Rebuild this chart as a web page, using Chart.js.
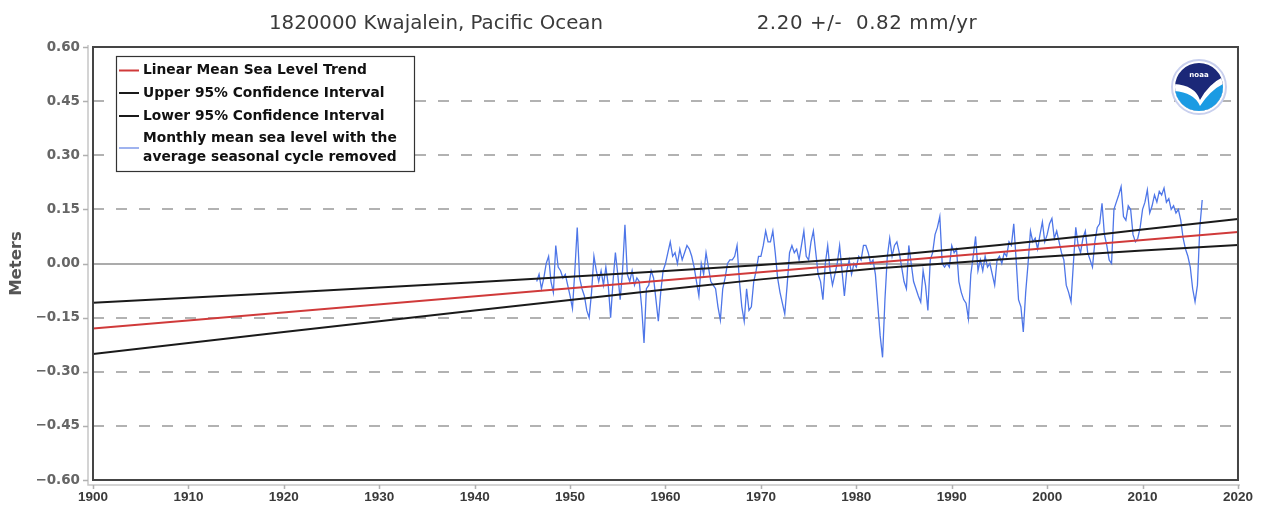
<!DOCTYPE html>
<html><head><meta charset="utf-8">
<script src="https://cdn.jsdelivr.net/npm/chart.js@4.4.1/dist/chart.umd.min.js"></script>
<style>html,body{margin:0;padding:0;background:#fff;overflow:hidden}#wrap{position:relative;width:1262px;height:507px}</style>
</head><body><div id="wrap"><canvas id="c"></canvas></div>
<script>
// ---------- data ----------
const chartTitle = '1820000 Kwajalein, Pacific Ocean';
const trendText = '2.20 +/-  0.82 mm/yr';
const yAxisTitle = 'Meters';
const legendLabels = [
  ['Linear Mean Sea Level Trend'],
  ['Upper 95% Confidence Interval'],
  ['Lower 95% Confidence Interval'],
  ['Monthly mean sea level with the', 'average seasonal cycle removed']
];
const xTickValues = [1900,1910,1920,1930,1940,1950,1960,1970,1980,1990,2000,2010,2020];
const xTickLabels = ['1900','1910','1920','1930','1940','1950','1960','1970','1980','1990','2000','2010','2020'];
const yTickValues = [-0.60,-0.45,-0.30,-0.15,0,0.15,0.30,0.45,0.60];
const yTickLabels = ['\u22120.60','\u22120.45','\u22120.30','\u22120.15','0.00','0.15','0.30','0.45','0.60'];

// linear trend (m)
const trendYears = [1900, 2020];
const trendValues = [-0.180, 0.087];
// 95% confidence interval lines (m)
const ciYears = [1900,1920,1940,1950,1960,1970,1982,1995,2005,2010,2020];
const ciUpper = [-0.109,-0.081,-0.052,-0.037,-0.021,-0.004,0.019,0.051,0.079,0.094,0.123];
const ciLower = [-0.251,-0.190,-0.130,-0.101,-0.072,-0.044,-0.014,0.011,0.028,0.036,0.051];

// mean sea level, seasonal cycle removed (m), quarterly readings from 1946.50
const mslStartYear = 1946.5;
const mslStep = 0.25;
const mslValues = [
  -0.05,-0.03,
  -0.07,-0.04,0.00,0.02,
  -0.05,-0.08,0.05,-0.01,
  -0.02,-0.04,-0.03,-0.06,
  -0.09,-0.125,-0.02,0.10,
  -0.04,-0.07,-0.09,-0.13,
  -0.15,-0.08,0.02,-0.02,
  -0.05,-0.02,-0.06,-0.01,
  -0.06,-0.15,-0.05,0.03,
  -0.03,-0.10,-0.02,0.107,
  -0.03,-0.05,-0.02,-0.06,
  -0.04,-0.05,-0.12,-0.22,
  -0.07,-0.06,-0.02,-0.04,
  -0.10,-0.16,-0.08,-0.02,
  0.00,0.03,0.06,0.02,
  0.03,0.00,0.04,0.01,
  0.03,0.05,0.04,0.02,
  -0.01,-0.05,-0.09,0.00,
  -0.03,0.03,-0.01,-0.05,
  -0.06,-0.07,-0.12,-0.157,
  -0.07,-0.04,0.00,0.01,
  0.01,0.02,0.05,-0.05,
  -0.12,-0.16,-0.07,-0.13,
  -0.12,-0.05,-0.02,0.02,
  0.02,0.05,0.09,0.06,
  0.06,0.09,0.03,-0.04,
  -0.08,-0.11,-0.14,-0.06,
  0.03,0.05,0.03,0.04,
  0.01,0.05,0.09,0.02,
  0.01,0.06,0.09,0.03,
  -0.03,-0.05,-0.10,0.00,
  0.05,-0.02,-0.06,-0.03,
  0.00,0.05,-0.02,-0.09,
  -0.02,0.01,-0.03,0.00,
  -0.01,0.02,0.01,0.05,
  0.05,0.03,0.00,0.01,
  -0.03,-0.115,-0.20,-0.26,
  -0.10,0.02,0.07,0.02,
  0.05,0.06,0.03,-0.01,
  -0.05,-0.07,0.05,0.00,
  -0.05,-0.07,-0.09,-0.107,
  -0.02,-0.06,-0.13,0.01,
  0.03,0.08,0.10,0.13,
  0.00,-0.01,0.00,-0.01,
  0.05,0.03,0.04,-0.05,
  -0.08,-0.10,-0.11,-0.153,
  -0.03,0.02,0.075,-0.02,
  0.01,-0.02,0.02,-0.01,
  0.00,-0.03,-0.06,0.01,
  0.02,0.00,0.03,0.02,
  0.06,0.05,0.11,0.01,
  -0.10,-0.12,-0.19,-0.08,
  0.00,0.09,0.06,0.07,
  0.04,0.08,0.115,0.06,
  0.08,0.11,0.125,0.07,
  0.09,0.06,0.03,0.01,
  -0.06,-0.08,-0.106,0.00,
  0.10,0.05,0.03,0.07,
  0.09,0.03,0.01,-0.01,
  0.06,0.10,0.11,0.167,
  0.08,0.05,0.01,0.00,
  0.15,0.17,0.19,0.213,
  0.13,0.12,0.16,0.15,
  0.08,0.06,0.07,0.10,
  0.15,0.17,0.204,0.14,
  0.16,0.19,0.17,0.20,
  0.19,0.209,0.17,0.18,
  0.15,0.16,0.14,0.15,
  0.12,0.07,0.04,0.02,
  -0.01,-0.07,-0.106,-0.06,
  0.10,0.176
];

// ---------- styles ----------
const COL_TREND = '#d03a3a';
const COL_CI = '#1a1a1a';
const COL_MSL = 'rgb(78,118,232)';
const legendColors = [COL_TREND, COL_CI, COL_CI, '#9fb3ef'];

const toXY = (xs, ys) => ys.map((v, i) => ({x: xs[i], y: v}));
const mslPoints = mslValues.map((v, i) => ({x: mslStartYear + i * mslStep, y: v}));

const decor = {
  id: 'decor',
  beforeDatasetsDraw(chart) {
    const {ctx, chartArea: a, scales: {y}} = chart;
    const y0 = Math.round(y.getPixelForValue(0));
    ctx.save();
    ctx.strokeStyle = '#ababab'; ctx.lineWidth = 2;
    ctx.beginPath(); ctx.moveTo(a.left, y0); ctx.lineTo(a.right, y0); ctx.stroke();
    ctx.restore();
  },
  afterDatasetsDraw(chart) {
    const {ctx, chartArea: a, scales: {x, y}} = chart;
    ctx.save();
    ctx.strokeStyle = '#c6c6c6'; ctx.lineWidth = 1.5;
    ctx.beginPath();
    ctx.moveTo(a.left - 5, a.top - 2); ctx.lineTo(a.left - 5, a.bottom + 5);
    ctx.lineTo(a.right + 2, a.bottom + 5);
    ctx.stroke();
    ctx.strokeStyle = '#b0b0b0'; ctx.lineWidth = 1.5;
    ctx.beginPath();
    yTickValues.forEach(v => { const p = Math.round(y.getPixelForValue(v)) + 0.5; ctx.moveTo(a.left - 10, p); ctx.lineTo(a.left - 5, p); });
    xTickValues.forEach(v => { const p = Math.round(x.getPixelForValue(v)) + 0.5; ctx.moveTo(p, a.bottom + 5); ctx.lineTo(p, a.bottom + 9); });
    ctx.stroke();
    ctx.strokeStyle = '#454545'; ctx.lineWidth = 2;
    ctx.strokeRect(a.left, a.top, a.right - a.left, a.bottom - a.top);
    ctx.restore();
  },
  afterDraw(chart) {
    const {ctx, chartArea: a} = chart;
    ctx.save();
    // title
    ctx.fillStyle = '#3a3a3a';
    ctx.font = '19.8px "DejaVu Sans", sans-serif';
    ctx.textAlign = 'center'; ctx.textBaseline = 'middle';
    ctx.fillText(chartTitle, 436, 24);
    ctx.letterSpacing = '0.6px';
    ctx.fillText(trendText, 867, 24);
    ctx.letterSpacing = '0px';
    // y axis title
    ctx.save();
    ctx.translate(17, (a.top + a.bottom) / 2);
    ctx.rotate(-Math.PI / 2);
    ctx.fillStyle = '#555';
    ctx.font = 'bold 16.5px "DejaVu Sans", sans-serif';
    ctx.fillText(yAxisTitle, 0, 0);
    ctx.restore();
    // legend box
    const bx = a.left + 23, by = a.top + 9, bw = 298, bh = 115;
    ctx.fillStyle = '#fff'; ctx.fillRect(bx, by, bw, bh);
    ctx.strokeStyle = '#333'; ctx.lineWidth = 1.2;
    ctx.strokeRect(bx + 0.5, by + 0.5, bw, bh);
    ctx.font = 'bold 13.8px "DejaVu Sans", sans-serif';
    ctx.textBaseline = 'middle';
    const rowY = [by + 14.5, by + 37, by + 60];
    legendLabels.forEach((lines, i) => {
      const cy = lines.length === 1 ? rowY[i] : by + 92;
      ctx.strokeStyle = legendColors[i]; ctx.lineWidth = 2;
      ctx.beginPath(); ctx.moveTo(bx + 3, cy); ctx.lineTo(bx + 23, cy); ctx.stroke();
      ctx.fillStyle = '#111';
      if (lines.length === 1) {
        ctx.textAlign = 'left';
        ctx.fillText(lines[0], bx + 27, cy);
      } else {
        ctx.textAlign = 'center';
        const w0 = ctx.measureText(lines[0]).width;
        const cx = bx + 27 + w0 / 2;
        ctx.fillText(lines[0], cx, cy - 9.5);
        ctx.fillText(lines[1], cx, cy + 9.5);
      }
    });
    // NOAA emblem
    const lx = a.right - 39, ly = a.top + 40;
    ctx.beginPath(); ctx.arc(lx, ly, 27, 0, Math.PI * 2);
    ctx.fillStyle = '#fff'; ctx.fill();
    ctx.strokeStyle = '#c9d0ee'; ctx.lineWidth = 2; ctx.stroke();
    ctx.save();
    ctx.beginPath(); ctx.arc(lx, ly, 24, 0, Math.PI * 2); ctx.clip();
    ctx.fillStyle = '#1b2878'; ctx.fillRect(lx - 26, ly - 26, 52, 52);
    ctx.fillStyle = '#ffffff';
    ctx.beginPath();
    ctx.moveTo(lx - 26, ly - 3);
    ctx.quadraticCurveTo(lx - 4, ly - 2, lx + 1, ly + 13);
    ctx.quadraticCurveTo(lx + 10, ly - 4, lx + 26, ly - 11);
    ctx.lineTo(lx + 26, ly + 30); ctx.lineTo(lx - 26, ly + 30); ctx.closePath(); ctx.fill();
    ctx.fillStyle = '#1b9be3';
    ctx.beginPath();
    ctx.moveTo(lx - 26, ly + 4);
    ctx.quadraticCurveTo(lx - 5, ly + 5, lx + 1, ly + 19);
    ctx.quadraticCurveTo(lx + 12, ly + 2, lx + 26, ly - 4);
    ctx.lineTo(lx + 26, ly + 30); ctx.lineTo(lx - 26, ly + 30); ctx.closePath(); ctx.fill();
    ctx.fillStyle = '#fff';
    ctx.font = 'bold 7px "DejaVu Sans", sans-serif';
    ctx.textAlign = 'center';
    ctx.fillText('noaa', lx, ly - 12);
    ctx.restore();
    ctx.restore();
  }
};

new Chart(document.getElementById('c'), {
  type: 'line',
  data: {
    datasets: [
      {label: legendLabels[0].join(' '), data: toXY(trendYears, trendValues), borderColor: COL_TREND, borderWidth: 2, order: 1},
      {label: legendLabels[1].join(' '), data: toXY(ciYears, ciUpper), borderColor: COL_CI, borderWidth: 2, order: 2},
      {label: legendLabels[2].join(' '), data: toXY(ciYears, ciLower), borderColor: COL_CI, borderWidth: 2, order: 3},
      {label: legendLabels[3].join(' '), data: mslPoints, borderColor: COL_MSL, borderWidth: 1.3, order: 4}
    ]
  },
  options: {
    responsive: true, maintainAspectRatio: false, animation: false,
    layout: {padding: {top: 47, right: 24, left: 0, bottom: 0}},
    plugins: {legend: {display: false}, tooltip: {enabled: false}, title: {display: false}},
    elements: {point: {radius: 0}, line: {tension: 0, fill: false}},
    scales: {
      x: {
        type: 'linear', min: 1900, max: 2020,
        afterBuildTicks(s) { s.ticks = xTickValues.map(v => ({value: v})); },
        afterFit(s) { s.height = 27; },
        ticks: {callback: (v, i) => xTickLabels[i], padding: 9, maxRotation: 0, autoSkip: false,
                color: '#3a3a3a', font: {family: '"Liberation Sans", sans-serif', weight: 'bold', size: 13.5}},
        grid: {display: false, drawTicks: false},
        border: {display: false}
      },
      y: {
        type: 'linear', min: -0.6, max: 0.6,
        afterBuildTicks(s) { s.ticks = yTickValues.map(v => ({value: v})); },
        afterFit(s) { s.width = 93; },
        ticks: {callback: (v, i) => yTickLabels[i], padding: 13,
                color: '#666', font: {family: '"DejaVu Sans", sans-serif', weight: 'bold', size: 13.5}},
        grid: {color: '#b2b2b2', lineWidth: 2, drawTicks: false},
        border: {display: false, dash: [11, 12]}
      }
    }
  },
  plugins: [decor]
});
</script>
</body></html>
